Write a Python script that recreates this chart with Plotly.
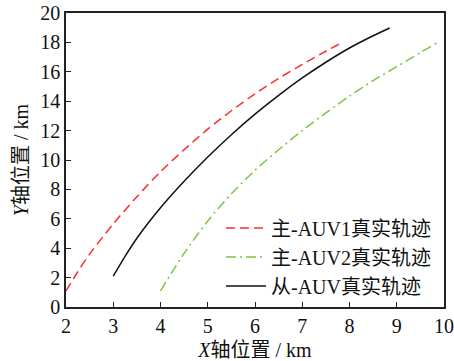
import plotly.graph_objects as go

# Master AUV1 (red dashed)
x_m1 = [2.0, 2.25, 2.5, 3.0, 3.5, 4.0, 4.5, 5.0, 5.5, 6.0, 6.5, 7.0, 7.5, 7.85]
y_m1 = [1.1, 2.4, 3.6, 5.65, 7.5, 9.2, 10.7, 12.1, 13.35, 14.5, 15.55, 16.5, 17.4, 18.0]

# Master AUV2 (green dash-dot)
x_m2 = [4.0, 4.25, 4.5, 5.0, 5.5, 6.0, 6.5, 7.0, 7.5, 8.0, 8.5, 9.0, 9.5, 9.87]
y_m2 = [1.1, 2.4, 3.65, 5.85, 7.7, 9.3, 10.7, 12.0, 13.2, 14.35, 15.4, 16.35, 17.3, 18.0]

# Slave AUV (black solid)
x_s = [3.0, 3.25, 3.5, 4.0, 4.5, 5.0, 5.5, 6.0, 6.5, 7.0, 7.5, 8.0, 8.5, 8.85]
y_s = [2.1, 3.45, 4.68, 6.75, 8.55, 10.2, 11.72, 13.12, 14.4, 15.58, 16.65, 17.62, 18.45, 18.98]

names = ["主-AUV1真实轨迹", "主-AUV2真实轨迹", "从-AUV真实轨迹"]
x_ticks = [2, 3, 4, 5, 6, 7, 8, 9, 10]
y_ticks = [0, 2, 4, 6, 8, 10, 12, 14, 16, 18, 20]

FONT = "Liberation Serif, Times New Roman, Noto Sans CJK SC, serif"

fig = go.Figure()
fig.add_trace(go.Scatter(x=x_m1, y=y_m1, mode="lines", name=names[0],
                         line=dict(color="#FF2B2B", width=1.5, dash="9px,5px",
                                   shape="spline", smoothing=0.8)))
fig.add_trace(go.Scatter(x=x_m2, y=y_m2, mode="lines", name=names[1],
                         line=dict(color="#7CC544", width=1.5, dash="10px,4px,2px,4px",
                                   shape="spline", smoothing=0.8)))
fig.add_trace(go.Scatter(x=x_s, y=y_s, mode="lines", name=names[2],
                         line=dict(color="#111111", width=1.5,
                                   shape="spline", smoothing=0.8)))

axis_common = dict(
    showline=True, linecolor="#222222", linewidth=1.5, mirror=True,
    ticks="inside", ticklen=5, tickwidth=1.3, tickcolor="#222222",
    showgrid=False, zeroline=False, automargin=False,
    tickfont=dict(family=FONT, size=20, color="#111111"),
)

fig.update_layout(
    width=454, height=361,
    margin=dict(l=66, r=10, t=13, b=54),
    paper_bgcolor="white", plot_bgcolor="white",
    font=dict(family=FONT, size=20, color="#111111"),
    xaxis=dict(range=[2, 10], tickvals=x_ticks, ticktext=[str(v) for v in x_ticks],
               title=dict(text="<i>X</i>轴位置 / km", font=dict(family=FONT, size=20), standoff=8),
               **axis_common),
    yaxis=dict(range=[0, 20], tickvals=y_ticks, ticktext=[str(v) for v in y_ticks],
               title=dict(text="<i>Y</i>轴位置 / km", font=dict(family=FONT, size=20), standoff=6),
               **axis_common),
    legend=dict(x=0.41, y=0.335, xanchor="left", yanchor="top",
                bgcolor="rgba(0,0,0,0)", borderwidth=0,
                font=dict(family=FONT, size=20, color="#111111"),
                itemwidth=40, tracegroupgap=0),
    showlegend=True,
)

fig.write_html("out.html")
